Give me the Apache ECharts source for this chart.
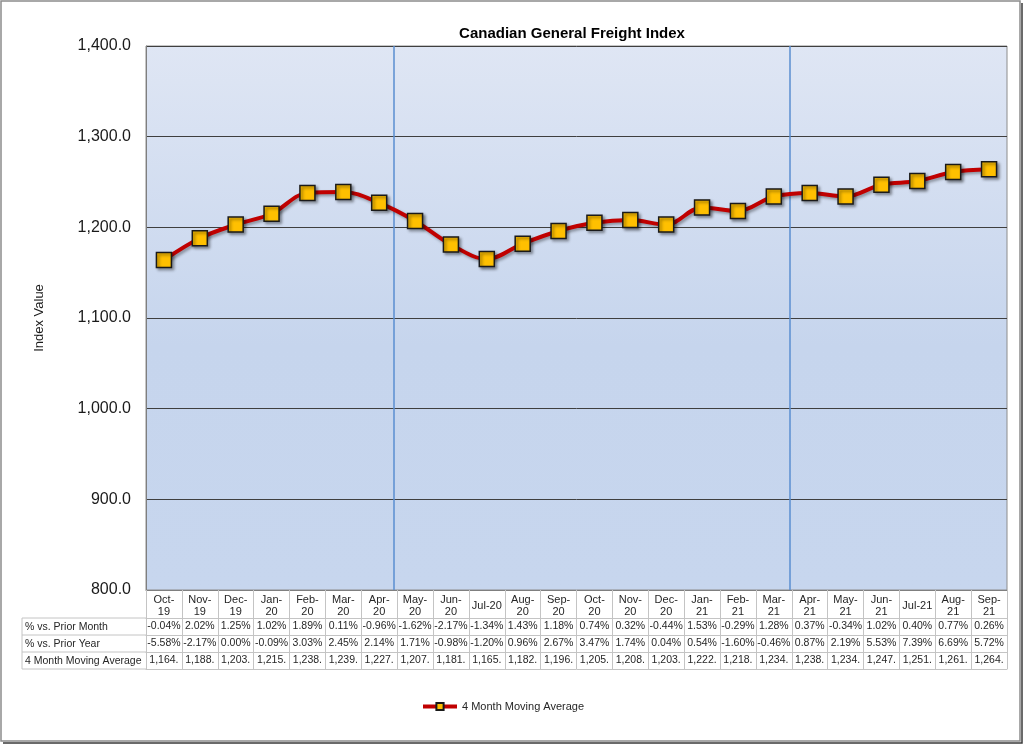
<!DOCTYPE html>
<html>
<head>
<meta charset="utf-8">
<title>Canadian General Freight Index</title>
<script src="https://cdn.jsdelivr.net/npm/echarts@6/dist/echarts.min.js"></script>
<style>
  html, body { margin: 0; padding: 0; background: #fff; }
  #chart { width: 1024px; height: 744px; }
</style>
</head>
<body>
<div id="chart"></div>
<script>
// months on the x axis
var months = ['Oct-19', 'Nov-19', 'Dec-19', 'Jan-20', 'Feb-20', 'Mar-20', 'Apr-20', 'May-20',
  'Jun-20', 'Jul-20', 'Aug-20', 'Sep-20', 'Oct-20', 'Nov-20', 'Dec-20', 'Jan-21', 'Feb-21',
  'Mar-21', 'Apr-21', 'May-21', 'Jun-21', 'Jul-21', 'Aug-21', 'Sep-21'];

// 4 month moving average (index value)
var movingAvg = [1164, 1188, 1203, 1215, 1238, 1239, 1227, 1207, 1181, 1165, 1182, 1196,
  1205, 1208, 1203, 1222, 1218, 1234, 1238, 1234, 1247, 1251, 1261, 1264];

// % vs. prior month
var vsPriorMonth = [-0.04, 2.02, 1.25, 1.02, 1.89, 0.11, -0.96, -1.62, -2.17, -1.34, 1.43, 1.18,
  0.74, 0.32, -0.44, 1.53, -0.29, 1.28, 0.37, -0.34, 1.02, 0.40, 0.77, 0.26];

// % vs. prior year
var vsPriorYear = [-5.58, -2.17, 0.00, -0.09, 3.03, 2.45, 2.14, 1.71, -0.98, -1.20, 0.96, 2.67,
  3.47, 1.74, 0.04, 0.54, -1.60, -0.46, 0.87, 2.19, 5.53, 7.39, 6.69, 5.72];

var rowLabels = ['% vs. Prior Month', '% vs. Prior Year', '4 Month Moving Average'];

// y axis range
var yMin = 800, yMax = 1400, yStep = 100;

// period dividers (category position)
var dividers = [6.4, 17.45];

// layout
var gridLeft = 146, gridTop = 46, gridRight = 1007, gridBottom = 590;
var headH = 28, rowH = 17, tableLeft = 22;
var font = 'Liberation Sans, Arial, sans-serif';
var cellBorder = '#c4c4c4';

function pct(v) { return v.toFixed(2) + '%'; }
function avgText(v) { return v.toLocaleString('en-US') + '.'; }

var chart = echarts.init(document.getElementById('chart'));

function tableAxis(data, offset, showTicks) {
  return {
    type: 'category',
    position: 'bottom',
    gridIndex: 0,
    offset: offset,
    data: data,
    axisLine: { show: true, onZero: false, lineStyle: { color: cellBorder, width: 1 } },
    axisTick: { show: showTicks, interval: 0, length: rowH, lineStyle: { color: cellBorder } },
    axisLabel: {
      show: showTicks, interval: 0, margin: 3,
      fontFamily: font, fontSize: 10.5, color: '#262626'
    },
    splitLine: { show: false }
  };
}

// left column of the data table
var tableGraphics = [];
for (var i = 0; i <= rowLabels.length; i++) {
  var y = gridBottom + headH + i * rowH;
  tableGraphics.push({
    type: 'line', silent: true,
    shape: { x1: tableLeft, y1: y, x2: gridLeft, y2: y },
    style: { stroke: cellBorder, lineWidth: 1 }
  });
}
tableGraphics.push({
  type: 'line', silent: true,
  shape: { x1: tableLeft, y1: gridBottom + headH, x2: tableLeft, y2: gridBottom + headH + 3 * rowH },
  style: { stroke: cellBorder, lineWidth: 1 }
});
rowLabels.forEach(function (t, i) {
  tableGraphics.push({
    type: 'text', silent: true,
    x: tableLeft + 3,
    y: gridBottom + headH + i * rowH + rowH / 2 + 0.5,
    style: { text: t, font: '10.5px ' + font, fill: '#262626', verticalAlign: 'middle' }
  });
});
// chart frame
tableGraphics.push({
  type: 'rect', silent: true, z: -1,
  shape: { x: 1, y: 1, width: 1019, height: 740 },
  style: { fill: 'none', stroke: '#8c8c8c', lineWidth: 1.5 }
});
tableGraphics.push({
  type: 'polyline', silent: true,
  shape: { points: [[1022, 3], [1022, 743], [3, 743]] },
  style: { stroke: '#3a3a3a', lineWidth: 1.5, fill: 'none' }
});

var option = {
  backgroundColor: '#ffffff',
  animation: false,
  title: {
    text: 'Canadian General Freight Index',
    left: 567,
    top: 21,
    textAlign: 'center',
    textStyle: { fontFamily: font, fontSize: 15, fontWeight: 'bold', color: '#000' }
  },
  legend: {
    left: 416,
    top: 696,
    itemWidth: 34,
    itemHeight: 9,
    itemGap: 3,
    lineStyle: { width: 4 },
    textStyle: { fontFamily: font, fontSize: 11, color: '#262626' },
    data: ['4 Month Moving Average']
  },
  grid: {
    left: gridLeft,
    top: gridTop,
    right: 1024 - gridRight,
    bottom: 744 - gridBottom,
    show: true,
    borderColor: '#8c8c8c',
    borderWidth: 1,
    backgroundColor: new echarts.graphic.LinearGradient(0, 0, 0, 1, [
      { offset: 0, color: '#dfe6f4' },
      { offset: 0.55, color: '#c6d5ed' },
      { offset: 1, color: '#c7d6ee' }
    ])
  },
  xAxis: [
    {
      type: 'category',
      position: 'bottom',
      data: months,
      axisLine: { show: true, onZero: false, lineStyle: { color: '#7f7f7f', width: 1 } },
      axisTick: { show: true, interval: 0, length: headH, lineStyle: { color: cellBorder } },
      axisLabel: {
        interval: 0, margin: 4, fontFamily: font, fontSize: 11, lineHeight: 12, color: '#262626',
        align: 'center',
        formatter: function (v) { return v.indexOf('Jul') === 0 ? '{one|' + v + '}' : v.replace('-', '-\n'); },
        rich: { one: { fontFamily: font, fontSize: 11, lineHeight: 24, color: '#262626' } }
      },
      splitLine: { show: false }
    },
    tableAxis(vsPriorMonth.map(pct), headH, true),
    tableAxis(vsPriorYear.map(pct), headH + rowH, true),
    tableAxis(movingAvg.map(avgText), headH + 2 * rowH, true),
    tableAxis(months, headH + 3 * rowH, false),
    {
      type: 'value', min: -0.5, max: months.length - 0.5, show: false,
      splitLine: { show: false }
    }
  ],
  yAxis: {
    type: 'value',
    min: yMin,
    max: yMax,
    interval: yStep,
    name: 'Index Value',
    nameLocation: 'middle',
    nameGap: 100,
    nameTextStyle: { fontFamily: font, fontSize: 13, color: '#1a1a1a' },
    axisLine: { show: true, onZero: false, lineStyle: { color: '#7f7f7f' } },
    axisTick: { show: false },
    axisLabel: {
      margin: 15, fontFamily: font, fontSize: 16, color: '#1a1a1a',
      formatter: function (v) { return v.toLocaleString('en-US', { minimumFractionDigits: 1 }); }
    },
    splitLine: { lineStyle: { color: '#3f3f3f', width: 1 } }
  },
  series: [
    {
      name: 'dividers',
      type: 'line',
      xAxisIndex: 5,
      data: [],
      silent: true,
      markLine: {
        silent: true,
        symbol: 'none',
        label: { show: false },
        lineStyle: { color: '#5a8ed0', width: 1.5, type: 'solid' },
        data: dividers.map(function (d) { return { xAxis: d }; })
      }
    },
    {
      name: '4 Month Moving Average',
      type: 'line',
      xAxisIndex: 0,
      data: movingAvg,
      smooth: 0.35,
      symbol: 'rect',
      symbolSize: 15,
      z: 5,
      lineStyle: {
        color: '#c00000', width: 4,
        shadowColor: 'rgba(0,0,0,0.35)', shadowBlur: 3, shadowOffsetX: 2, shadowOffsetY: 2
      },
      itemStyle: {
        color: '#ffc000', borderColor: '#1a1a1a', borderWidth: 1.5,
        shadowColor: 'rgba(0,0,0,0.45)', shadowBlur: 3, shadowOffsetX: 2, shadowOffsetY: 2
      }
    }
  ],
  graphic: tableGraphics
};

chart.setOption(option);
</script>
</body>
</html>
